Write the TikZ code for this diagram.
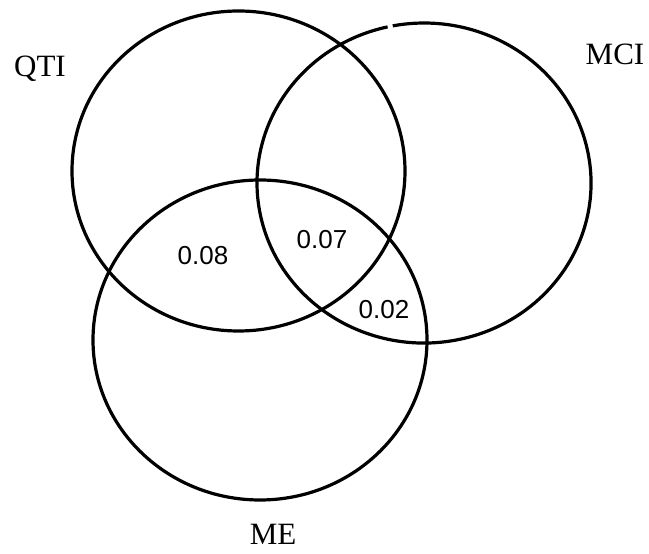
\documentclass[tikz,border=0pt]{standalone}
\usepackage{fontspec}
\setmainfont{Liberation Serif}
\newfontfamily\numfont{Liberation Sans}
\begin{document}
\begin{tikzpicture}[x=1pt,y=1pt,
  setline/.style={line width=3.2pt},
  setlabel/.style={font=\fontsize{31}{34}\selectfont, inner sep=0pt, anchor=base},
  numlabel/.style={font=\numfont\fontsize{26}{30}\selectfont, inner sep=0pt, anchor=base}]
\useasboundingbox (0,0) rectangle (649,554);
% QTI
\draw[setline] (238.5,383) ellipse [x radius=166.5, y radius=160];
% MCI (small gap at top as in the scan)
\draw[setline] (387.6,527.1) arc [start angle=102.6, end angle=460.8, x radius=167, y radius=160];
% ME
\draw[setline] (260,214) ellipse [x radius=167, y radius=160];
\node[setlabel] (qti) at (40,477) {QTI};
\node[setlabel] (mci) at (615,489) {MCI};
\node[setlabel] (me) at (273,9) {ME};
\node[numlabel] (a) at (203,289) {0.08};
\node[numlabel] (b) at (322,305) {0.07};
\node[numlabel] (c) at (384,235) {0.02};
\end{tikzpicture}
\end{document}
